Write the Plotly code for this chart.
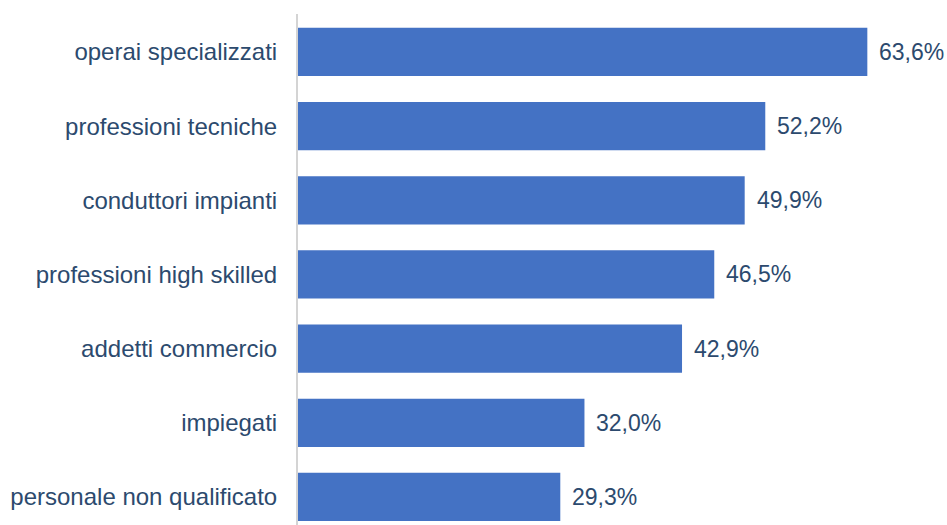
import plotly.graph_objects as go

# Occupational groups, listed bottom to top
categories = [
    "personale non qualificato",
    "impiegati",
    "addetti commercio",
    "professioni high skilled",
    "conduttori impianti",
    "professioni tecniche",
    "operai specializzati",
]
values = [29.3, 32.0, 42.9, 46.5, 49.9, 52.2, 63.6]
value_labels = [f"{v:.1f}%".replace(".", ",") for v in values]

bar_color = "#4472C4"
text_color = "#2C4A6E"
font_family = "Liberation Sans, Arial, sans-serif"

fig = go.Figure(
    go.Bar(
        y=list(range(len(categories))),
        x=values,
        orientation="h",
        width=0.65,
        marker=dict(color=bar_color, line=dict(width=0)),
        hoverinfo="skip",
    )
)

for i, (v, lab) in enumerate(zip(values, value_labels)):
    fig.add_annotation(
        x=v, y=i, text=lab, showarrow=False,
        xanchor="left", yanchor="middle", xshift=10,
        font=dict(size=23, color=text_color, family=font_family),
    )

fig.update_layout(
    width=947, height=525,
    margin=dict(l=298, r=0, t=14, b=0),
    paper_bgcolor="white", plot_bgcolor="white",
    showlegend=False,
    font=dict(family=font_family, color=text_color, size=23),
    xaxis=dict(range=[0, 72.5], visible=False, fixedrange=True),
    yaxis=dict(
        range=[-0.378, 6.512],
        tickmode="array",
        tickvals=list(range(len(categories))),
        ticktext=categories,
        ticks="",
        ticklabelstandoff=14,
        showgrid=False, zeroline=False,
        showline=True, linecolor="#D4D4D4", linewidth=2,
        tickfont=dict(size=24, color=text_color, family=font_family),
        fixedrange=True,
    ),
)

fig.write_html("out.html")
